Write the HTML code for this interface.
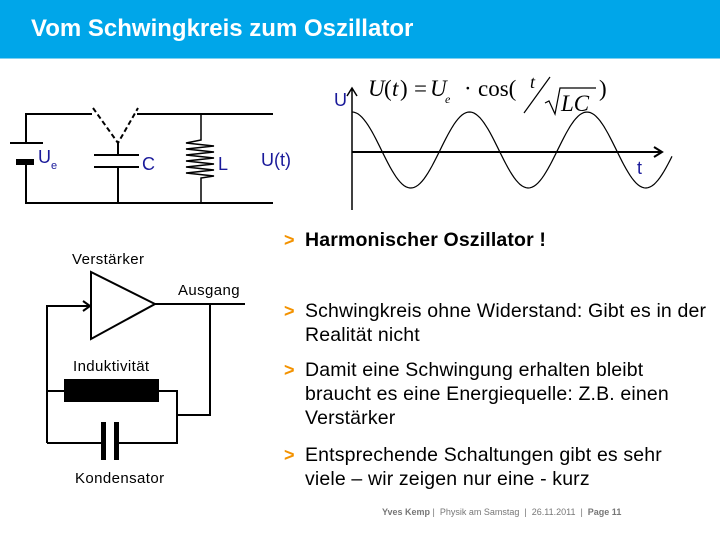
<!DOCTYPE html>
<html><head><meta charset="utf-8"><style>
body{margin:0;width:720px;height:540px;background:#fff;position:relative;overflow:hidden;font-family:"Liberation Sans",sans-serif}
.hd{position:absolute;left:0;top:0;width:720px;height:58px;background:#00a6e9;border-bottom:1px solid #7fd0f0}
.hd div{position:absolute;left:31px;top:15px;color:#fff;font-weight:bold;font-size:24px;white-space:nowrap}
.b{position:absolute;left:284px;font-size:19.5px;letter-spacing:0.15px;color:#000;line-height:24px;white-space:nowrap}
.b span.g{position:absolute;left:0;color:#f39200;font-weight:bold;letter-spacing:0;font-size:18px}
.b div{margin-left:21px}
.ft{position:absolute;left:382px;top:507px;font-size:9px;color:#777;white-space:nowrap}
</style></head><body>
<div class="hd"><div>Vom Schwingkreis zum Oszillator</div></div>
<svg width="720" height="540" style="position:absolute;left:0;top:0" font-family="Liberation Sans, sans-serif">
<g stroke="#000" stroke-width="2" fill="none">
<path d="M92 114H26V143M10 143H43M26 165V203H273M137 114H273"/>
<path d="M93 108L118 143L138 108" stroke-dasharray="5,3"/>
<path d="M118 143V155M94 155H139M94 167H139M118 167V203"/>
<path d="M201 114V140L186 143L214 146L186 149L214 152L186 155L214 158L186 161L214 164L186 167L214 170L186 173L214 176L201 178V203" stroke-width="1.5"/>
</g>
<rect x="16" y="159" width="18" height="6" fill="#000"/>
<g fill="#1a1a9a" font-size="18"><text x="38" y="163">U</text><text x="51" y="169" font-size="11">e</text><text x="142" y="170">C</text><text x="218" y="170">L</text><text x="261" y="166">U(t)</text>
<text x="334" y="106">U</text><text x="637" y="174">t</text></g>
<g stroke="#000" fill="none">
<path d="M352 210V89M347 96L352 88L357 96" stroke-width="1.5"/>
<path d="M352 152H662M654 147L662 152L654 157" stroke-width="2"/>
<path id="w" stroke-width="1.2" d=""/>
</g>
<g font-family="Liberation Serif, serif" font-size="23">
<text x="368" y="96" font-style="italic">U</text>
<text x="384" y="96">(</text><text x="392" y="96" font-style="italic">t</text><text x="400" y="96">)</text>
<text x="414" y="96">=</text>
<text x="430" y="96" font-style="italic">U</text>
<text x="445" y="103" font-size="12" font-style="italic">e</text>
<text x="464" y="96">·</text>
<text x="478" y="96">cos(</text>
<text x="530" y="88" font-size="18" font-style="italic">t</text>
<text x="561" y="111" font-style="italic">LC</text>
<text x="599" y="96">)</text>
</g>
<path d="M524 113L550 77" stroke="#000" stroke-width="1.2"/>
<path d="M545 103L549 101L555 114L560 88H596" stroke="#000" stroke-width="1.2" fill="none"/>
<g stroke="#000" stroke-width="2" fill="none">
<path d="M91 272V339L155 304ZM155 304H245M210 304V415H177"/>
<path d="M47 443V306H90M83 301L90 306L83 311"/>
<path d="M47 391H64M159 391H177V443H119M47 443H102"/>
</g>
<rect x="64" y="379" width="95" height="23" fill="#000"/>
<rect x="101" y="422" width="5" height="38" fill="#000"/>
<rect x="114" y="422" width="5" height="38" fill="#000"/>
<g font-size="15" letter-spacing="0.4" fill="#000"><text x="72" y="264">Verstärker</text><text x="178" y="295">Ausgang</text><text x="73" y="371">Induktivität</text><text x="75" y="483">Kondensator</text></g>
</svg>
<script>
var d="";for(var x=352;x<=672;x+=2){var y=150-38*Math.cos((x-352)/117.5*2*Math.PI);d+=(x==352?"M":"L")+x+" "+y.toFixed(1);}document.getElementById("w").setAttribute("d",d);
</script>
<div class="b" style="top:228px"><span class="g">&gt;</span><div><b>Harmonischer Oszillator !</b></div></div>
<div class="b" style="top:299px"><span class="g">&gt;</span><div>Schwingkreis ohne Widerstand: Gibt es in der<br>Realität nicht</div></div>
<div class="b" style="top:358px"><span class="g">&gt;</span><div>Damit eine Schwingung erhalten bleibt<br>braucht es eine Energiequelle: Z.B. einen<br>Verstärker</div></div>
<div class="b" style="top:443px"><span class="g">&gt;</span><div>Entsprechende Schaltungen gibt es sehr<br>viele – wir zeigen nur eine - kurz</div></div>
<div class="ft"><b>Yves Kemp</b> | &nbsp;Physik am Samstag &nbsp;| &nbsp;26.11.2011 &nbsp;| &nbsp;<b>Page 11</b></div>
</body></html>
